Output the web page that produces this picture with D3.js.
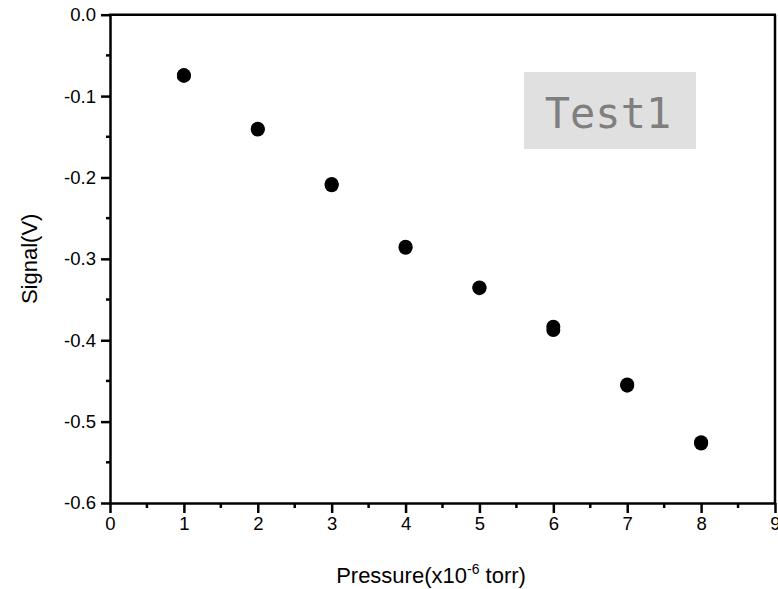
<!DOCTYPE html>
<html>
<head>
<meta charset="utf-8">
<script src="https://cdn.jsdelivr.net/npm/d3@7"></script>
<style>
  body { margin: 0; background: #fff; }
  svg { font-family: "Liberation Sans", Arial, sans-serif; }
</style>
</head>
<body>
<svg id="chart" width="778" height="589"></svg>
<script>
// pressure values (x10^-6 torr) and repeated signal readings
const pressure = [1, 2, 3, 4, 5, 6, 7, 8];
const signalA = [-0.0742, -0.1402, -0.2080, -0.2850, -0.3352, -0.3835, -0.4543, -0.5252];
const signalB = [-0.0752, -0.1412, -0.2095, -0.2865, -0.3360, -0.3875, -0.4558, -0.5268];
const xTicks = [0, 1, 2, 3, 4, 5, 6, 7, 8, 9];
const yTicks = [0, -0.1, -0.2, -0.3, -0.4, -0.5, -0.6];
const labelText = "Test1";

const svg = d3.select("#chart");

// plot frame
const plotL = 110, plotR = 775, plotT = 14.7, plotB = 503;

const x = d3.scaleLinear().domain([0, 9]).range([plotL, plotR]);
const y = d3.scaleLinear().domain([0, -0.6]).range([plotT, plotB]);

// minor ticks at half steps
const xMinor = d3.range(0.5, 9, 1);
const yMinor = d3.range(-0.05, -0.6, -0.1);

// x axis (bottom)
const gx = svg.append("g")
  .attr("transform", `translate(0,${plotB})`)
  .call(d3.axisBottom(x).tickValues(xTicks).tickFormat(d3.format("d"))
    .tickSize(10).tickSizeOuter(0).tickPadding(4));
gx.append("g").selectAll("line")
  .data(xMinor).enter().append("line")
  .attr("x1", d => x(d)).attr("x2", d => x(d))
  .attr("y1", 0).attr("y2", 5)
  .attr("stroke", "#000").attr("stroke-width", 2.5);

// y axis (left)
const gy = svg.append("g")
  .attr("transform", `translate(${plotL},0)`)
  .call(d3.axisLeft(y).tickValues(yTicks)
    .tickFormat(d => d === 0 ? "0.0" : d.toFixed(1))
    .tickSize(9).tickSizeOuter(0).tickPadding(5));
gy.append("g").selectAll("line")
  .data(yMinor).enter().append("line")
  .attr("y1", d => y(d)).attr("y2", d => y(d))
  .attr("x1", 0).attr("x2", -4)
  .attr("stroke", "#000").attr("stroke-width", 2.5);

[gx, gy].forEach(g => {
  g.selectAll(".domain").attr("stroke-width", 2.5);
  g.selectAll(".tick line").attr("stroke-width", 2.5);
  g.selectAll("text").attr("font-size", 18.5)
    .attr("font-family", "'Liberation Sans', Arial, sans-serif").attr("fill", "#000");
});

// top and right frame lines
svg.append("line")
  .attr("x1", x(0) - 1).attr("x2", x(9) + 1)
  .attr("y1", y(0)).attr("y2", y(0))
  .attr("stroke", "#000").attr("stroke-width", 2.5);
svg.append("line")
  .attr("x1", x(9)).attr("x2", x(9))
  .attr("y1", y(0)).attr("y2", y(-0.6))
  .attr("stroke", "#000").attr("stroke-width", 2.5);

// data points
const pts = pressure.flatMap((p, i) => [[p, signalA[i]], [p, signalB[i]]]);
svg.append("g").selectAll("circle")
  .data(pts).enter().append("circle")
  .attr("cx", d => x(d[0]))
  .attr("cy", d => y(d[1]))
  .attr("r", 7)
  .attr("fill", "#000");

// axis titles
svg.append("text")
  .attr("transform", `translate(37,${(plotT + plotB) / 2}) rotate(-90)`)
  .attr("text-anchor", "middle")
  .attr("font-size", 22)
  .text("Signal(V)");

const xt = svg.append("text")
  .attr("x", 431)
  .attr("y", 583)
  .attr("text-anchor", "middle")
  .attr("font-size", 22);
xt.append("tspan").text("Pressure(x10");
xt.append("tspan").attr("dy", -9).attr("font-size", 14).text("-6");
xt.append("tspan").attr("dy", 9).text(" torr)");

// label box
svg.append("rect")
  .attr("x", 524).attr("y", 72)
  .attr("width", 172).attr("height", 77)
  .attr("fill", "#e0e0e0");
svg.append("text")
  .attr("x", 608).attr("y", 128)
  .attr("text-anchor", "middle")
  .attr("font-family", "'DejaVu Sans Mono', monospace")
  .attr("font-size", 42)
  .attr("fill", "#7f7f7f")
  .text(labelText);
</script>
</body>
</html>
